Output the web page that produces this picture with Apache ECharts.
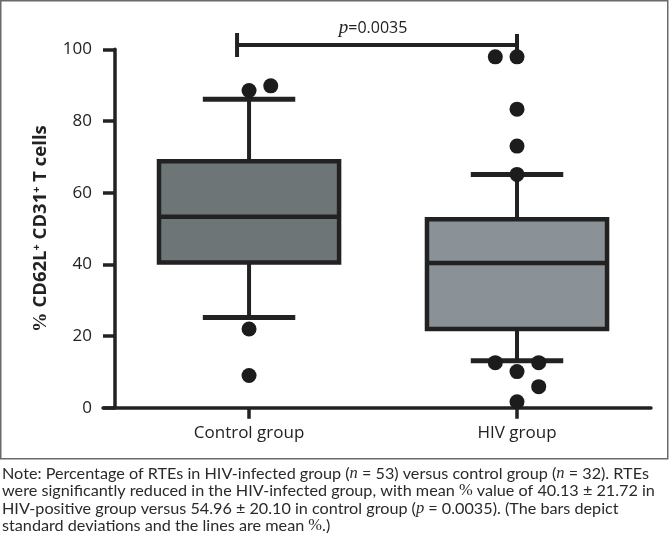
<!DOCTYPE html>
<html><head><meta charset="utf-8">
<script src="https://cdn.jsdelivr.net/npm/echarts@6/dist/echarts.min.js"></script>
<style>html,body{margin:0;padding:0;background:#fff}#c{width:670px;height:548px}</style>
</head><body><div id="c"></div>
<script>
// ---- data ----
const categories = ['Control group', 'HIV group'];
// whisker low, Q1, median, Q3, whisker high (per group)
const whiskerLow = [25.2, 13.1];
const q1 = [40.5, 22.0];
const median = [53.3, 40.4];
const q3 = [68.8, 52.6];
const whiskerHigh = [86.1, 65.1];
// outliers: group index, value, side-by-side slot (-1 left, 0 centre, 1 right)
const outlierGroup = [0, 0, 0, 0, 1, 1, 1, 1, 1, 1, 1, 1, 1, 1];
const outlierValue = [88.5, 89.8, 22.0, 9.0, 97.9, 97.9, 83.3, 73.0, 65.1, 12.6, 12.6, 10.1, 5.9, 1.7];
const outlierSlot  = [0, 1, 0, 0, -1, 0, 0, 0, 0, -1, 1, 0, 1, 0];
const yTicks = [0, 20, 40, 60, 80, 100];
const comparison = { from: 0, to: 1, level: 101.2, label: '0.0035' };
const noteLines = [
  'Note: Percentage of RTEs in HIV-infected group ({i|n} = 53) versus control group ({i|n} = 32). RTEs',
  'were significantly reduced in the HIV-infected group, with mean {s|%} value of 40.13 ± 21.72 in',
  'HIV-positive group versus 54.96 ± 20.10 in control group ({i|p} = 0.0035). (The bars depict',
  'standard deviations and the lines are mean {s|%}.)'
];

// ---- styles ----
const INK = '#222222';
const boxFill = ['#6e7577', '#8a9197'];
const FONT = 'Open Sans';

const boxData = categories.map((c, i) => [i, whiskerLow[i], q1[i], median[i], q3[i], whiskerHigh[i]]);
const outData = outlierValue.map((v, i) => [outlierGroup[i], v, outlierSlot[i]]);

function renderBox(params, api) {
  const x = api.value(0);
  const unit = api.size([1, 0])[0];
  const bw = unit * 0.672, cw = unit * 0.345;
  const pLo = api.coord([x, api.value(1)]);
  const pQ1 = api.coord([x, api.value(2)]);
  const pMed = api.coord([x, api.value(3)]);
  const pQ3 = api.coord([x, api.value(4)]);
  const pHi = api.coord([x, api.value(5)]);
  const cx = pLo[0];
  const ls = { stroke: INK, lineWidth: 4 };
  return {
    type: 'group',
    children: [
      { type: 'line', shape: { x1: cx, y1: pQ3[1], x2: cx, y2: pHi[1] }, style: ls },
      { type: 'line', shape: { x1: cx, y1: pQ1[1], x2: cx, y2: pLo[1] }, style: ls },
      { type: 'line', shape: { x1: cx - cw / 2, y1: pHi[1], x2: cx + cw / 2, y2: pHi[1] }, style: { stroke: INK, lineWidth: 5 } },
      { type: 'line', shape: { x1: cx - cw / 2, y1: pLo[1], x2: cx + cw / 2, y2: pLo[1] }, style: { stroke: INK, lineWidth: 5 } },
      { type: 'rect', shape: { x: cx - bw / 2, y: pQ3[1], width: bw, height: pQ1[1] - pQ3[1] },
        style: { fill: boxFill[params.dataIndex], stroke: INK, lineWidth: 4.5 } },
      { type: 'line', shape: { x1: cx - bw / 2, y1: pMed[1], x2: cx + bw / 2, y2: pMed[1] }, style: { stroke: INK, lineWidth: 4.5 } }
    ]
  };
}

function renderDot(params, api) {
  const unit = api.size([1, 0])[0];
  const p = api.coord([api.value(0), api.value(1)]);
  return {
    type: 'circle',
    shape: { cx: p[0] + api.value(2) * unit * 0.081, cy: p[1], r: 7.5 },
    style: { fill: '#1c1c1c' }
  };
}

function renderBracket(params, api) {
  const a = api.coord([api.value(0), api.value(2)]);
  const b = api.coord([api.value(1), api.value(2)]);
  const x1 = a[0] - 12, x2 = b[0], y = a[1];
  const s = { stroke: INK, lineWidth: 4 };
  return {
    type: 'group',
    children: [
      { type: 'line', shape: { x1: x1, y1: y, x2: x2, y2: y }, style: s },
      { type: 'line', shape: { x1: x1, y1: y - 12, x2: x1, y2: y + 12 }, style: s },
      { type: 'line', shape: { x1: x2, y1: y - 11, x2: x2, y2: y + 5 }, style: s },
      { type: 'text', x: (x1 + x2) / 2 - 4, y: y - 17,
        style: {
          text: '{p|p}{t|=' + comparison.label + '}',
          align: 'center', verticalAlign: 'middle',
          rich: {
            p: { fontFamily: 'Liberation Serif', fontStyle: 'italic', fontSize: 19, fill: INK },
            t: { fontFamily: FONT, fontSize: 16, fill: INK }
          }
        } }
    ]
  };
}

const chart = echarts.init(document.getElementById('c'), null, { renderer: 'canvas' });
chart.setOption({
  animation: false,
  backgroundColor: '#ffffff',
  grid: { left: 103, right: 19, top: 49.3, bottom: 140.2 },
  xAxis: {
    type: 'value', min: -0.545, max: 1.5,
    splitLine: { show: false },
    axisLine: { show: true, onZero: false, lineStyle: { color: INK, width: 3.5 } },
    axisTick: { show: true, customValues: [0, 1], length: 11, lineStyle: { color: INK, width: 3.5 } },
    axisLabel: { customValues: [0, 1], formatter: v => categories[Math.round(v)], margin: 17,
      fontFamily: FONT, fontSize: 17, color: INK }
  },
  yAxis: {
    type: 'value', min: yTicks[0], max: yTicks[yTicks.length - 1], interval: 20, offset: -12,
    splitLine: { show: false },
    axisLine: { show: true, onZero: false, lineStyle: { color: INK, width: 3.5 } },
    axisTick: { show: true, length: 12, lineStyle: { color: INK, width: 3.5 } },
    axisLabel: { margin: 23, fontFamily: FONT, fontSize: 17, color: INK },
    name: '{s|%} CD62L{u|+} CD31{u|+} T cells',
    nameLocation: 'middle', nameRotate: 90, nameGap: 64,
    nameTextStyle: {
      fontFamily: FONT, fontWeight: 'bold', fontSize: 18.5, color: INK,
      rich: {
        s: { fontFamily: 'Liberation Serif', fontWeight: 'bold', fontSize: 19.5, color: INK },
        u: { fontFamily: FONT, fontWeight: 'bold', fontSize: 11, color: INK, verticalAlign: 'top', padding: [0, 0, 9, 0] }
      }
    }
  },
  series: [
    { type: 'custom', renderItem: renderBox, data: boxData, z: 2 },
    { type: 'custom', renderItem: renderDot, data: outData, z: 3 },
    { type: 'custom', renderItem: renderBracket, data: [[comparison.from, comparison.to, comparison.level]], z: 4, clip: false }
  ],
  graphic: [
    { type: 'rect', shape: { x: 0.75, y: 0.75, width: 667, height: 458 }, style: { fill: 'none', stroke: '#6a6a6a', lineWidth: 1.5 }, silent: true },
    ...noteLines.map((t, i) => ({
      type: 'text', left: 2, top: 465 + i * 17.4,
      style: {
        text: t, fontFamily: 'Lato', fontSize: 16.2, fill: '#2a2a2a',
        rich: {
          i: { fontFamily: 'Liberation Serif', fontStyle: 'italic', fontSize: 16.5, fill: '#2a2a2a' },
          s: { fontFamily: 'Liberation Serif', fontSize: 16.5, fill: '#2a2a2a' }
        }
      }
    }))
  ]
});
</script>
</body></html>
